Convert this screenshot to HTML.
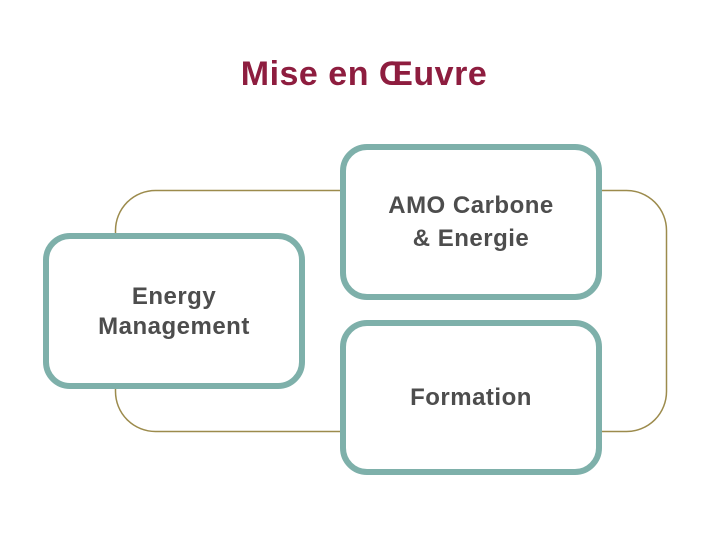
<!DOCTYPE html>
<html><head><meta charset="utf-8"><style>
html,body{margin:0;padding:0;background:#fff;}
body{width:718px;height:545px;overflow:hidden;position:relative;font-family:"Liberation Sans",sans-serif;}
</style></head><body>
<svg width="718" height="545" viewBox="0 0 718 545" xmlns="http://www.w3.org/2000/svg">
<rect x="115.5" y="190.5" width="551" height="241" rx="40" fill="none" stroke="#9c8b4c" stroke-width="1.5"/>
<rect x="46" y="236" width="256" height="150" rx="24" fill="#fff" stroke="#7eb0aa" stroke-width="6"/>
<rect x="343" y="147" width="256" height="150" rx="24" fill="#fff" stroke="#7eb0aa" stroke-width="6"/>
<rect x="343" y="323" width="256" height="149" rx="24" fill="#fff" stroke="#7eb0aa" stroke-width="6"/>
<text x="364" y="85" text-anchor="middle" font-family="Liberation Sans, sans-serif" font-weight="bold" font-size="34" fill="#8e1d3f" letter-spacing="0.5">Mise en Œuvre</text>
<g font-family="Liberation Sans, sans-serif" font-weight="bold" font-size="24" fill="#4d4d4d" text-anchor="middle" letter-spacing="0.5">
<text x="174" y="304">Energy</text>
<text x="174" y="334">Management</text>
<text x="471" y="213">AMO Carbone</text>
<text x="471" y="246">&amp; Energie</text>
<text x="471" y="405">Formation</text>
</g>
</svg>
</body></html>
